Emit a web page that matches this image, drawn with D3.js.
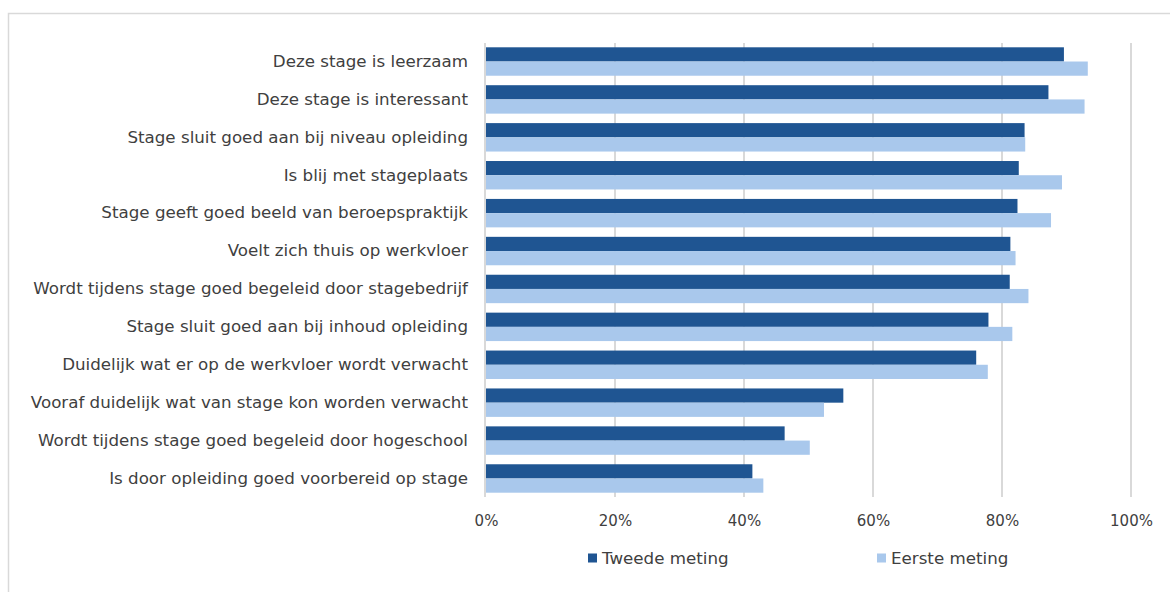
<!DOCTYPE html>
<html>
<head>
<meta charset="utf-8">
<script src="https://cdn.jsdelivr.net/npm/d3@7"></script>
<style>
  html, body { margin: 0; padding: 0; background: #ffffff; }
  svg { display: block; }
  text { font-family: "DejaVu Sans", sans-serif; fill: #404040; }
</style>
</head>
<body>
<svg id="chart" width="1170" height="592"></svg>
<script>
const categories = [
  "Deze stage is leerzaam",
  "Deze stage is interessant",
  "Stage sluit goed aan bij niveau opleiding",
  "Is blij met stageplaats",
  "Stage geeft goed beeld van beroepspraktijk",
  "Voelt zich thuis op werkvloer",
  "Wordt tijdens stage goed begeleid door stagebedrijf",
  "Stage sluit goed aan bij inhoud opleiding",
  "Duidelijk wat er op de werkvloer wordt verwacht",
  "Vooraf duidelijk wat van stage kon worden verwacht",
  "Wordt tijdens stage goed begeleid door hogeschool",
  "Is door opleiding goed voorbereid op stage"
];
const tweedeMeting = [89.6, 87.2, 83.5, 82.6, 82.4, 81.3, 81.2, 77.9, 76.0, 55.4, 46.3, 41.3];
const eersteMeting = [93.3, 92.8, 83.6, 89.3, 87.6, 82.1, 84.1, 81.6, 77.8, 52.4, 50.2, 43.0];
const seriesNames = ["Tweede meting", "Eerste meting"];
const tickValues = [0, 20, 40, 60, 80, 100];
const colors = ["#1f5592", "#a9c8ec"];

const svg = d3.select("#chart");

// outer chart border
svg.append("rect")
  .attr("x", 8.5).attr("y", 13.5)
  .attr("width", 1200).attr("height", 620)
  .attr("fill", "none").attr("stroke", "#d9d9d9").attr("stroke-width", 1.5);

const x = d3.scaleLinear().domain([0, 100]).range([486, 1131]);
const y = d3.scaleBand().domain(categories).range([47.3, 492.7])
  .paddingInner(0.25).paddingOuter(0);
const ySub = d3.scaleBand().domain(seriesNames).range([0, y.bandwidth()]);

// gridlines
svg.append("g").selectAll("line")
  .data(tickValues.filter(d => d > 0))
  .join("line")
  .attr("x1", d => x(d)).attr("x2", d => x(d))
  .attr("y1", 43).attr("y2", 497)
  .attr("stroke", "#d9d9d9").attr("stroke-width", 2);

// bars
const series = [tweedeMeting, eersteMeting];
const groups = svg.append("g").selectAll("g")
  .data(categories)
  .join("g")
  .attr("transform", d => `translate(0,${y(d)})`);

groups.selectAll("rect")
  .data((d, i) => seriesNames.map((s, j) => ({ s, v: series[j][i], c: colors[j] })))
  .join("rect")
  .attr("x", x(0))
  .attr("y", d => ySub(d.s))
  .attr("width", d => x(d.v) - x(0))
  .attr("height", ySub.bandwidth())
  .attr("fill", d => d.c);

// vertical axis line at 0
svg.append("line")
  .attr("x1", x(0) - 1).attr("x2", x(0) - 1)
  .attr("y1", 43).attr("y2", 497)
  .attr("stroke", "#d9d9d9").attr("stroke-width", 2);

// y axis labels
const yAxis = d3.axisLeft(y).tickSize(0).tickPadding(18);
const yg = svg.append("g").attr("transform", `translate(${x(0)},0)`).call(yAxis);
yg.select(".domain").remove();
yg.selectAll("text")
  .attr("font-family", "DejaVu Sans, sans-serif")
  .attr("font-size", 16.7)
  .attr("fill", "#404040");

// x axis labels
const xAxis = d3.axisBottom(x).tickValues(tickValues).tickSize(0).tickPadding(18)
  .tickFormat(d => d + "%");
const xg = svg.append("g").attr("transform", `translate(0,497)`).call(xAxis);
xg.select(".domain").remove();
xg.selectAll("text")
  .attr("font-family", "DejaVu Sans, sans-serif")
  .attr("font-size", 15)
  .attr("fill", "#404040");

// legend
const legendX = [588, 877];
const legend = svg.append("g").selectAll("g")
  .data(seriesNames)
  .join("g")
  .attr("transform", (d, i) => `translate(${legendX[i]},558)`);
legend.append("rect")
  .attr("x", 0).attr("y", -4.5).attr("width", 9).attr("height", 9)
  .attr("fill", (d, i) => colors[i]);
legend.append("text")
  .attr("x", 14).attr("y", 0).attr("dy", "0.35em")
  .attr("font-size", 16.7)
  .text(d => d);
</script>
</body>
</html>
